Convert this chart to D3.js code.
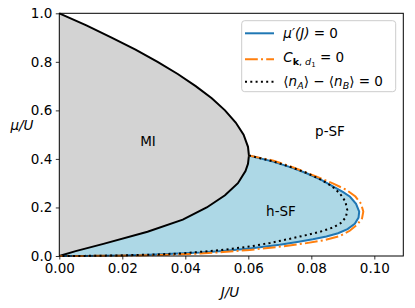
<!DOCTYPE html>
<html>
<head>
<meta charset="utf-8">
<script src="https://cdn.jsdelivr.net/npm/d3@7"></script>
<style>
  body { margin: 0; background: #fff; }
  text { font-family: "DejaVu Sans", sans-serif; }
</style>
</head>
<body>
<svg width="415" height="308"></svg>
<script>
// data
const xTicks = [0, 0.02, 0.04, 0.06, 0.08, 0.10]
const yTicks = [0, 0.2, 0.4, 0.6, 0.8, 1.0]

// Mott lobe boundary, top (mu=1) round to bottom (mu=0)
const lobeMu = [1.0, 0.95, 0.9, 0.85, 0.8, 0.75, 0.7, 0.65, 0.6, 0.55, 0.5, 0.45, 0.414, 0.38, 0.35, 0.3, 0.25, 0.2, 0.15, 0.1, 0.05, 0.02, 0]
const lobeJ  = [0, 0.0086, 0.0166, 0.0242, 0.0312, 0.0376, 0.0433, 0.0484, 0.0526, 0.0560, 0.0585, 0.0599, 0.0602, 0.0599, 0.0591, 0.0567, 0.0526, 0.0468, 0.0392, 0.0280, 0.0140, 0.0052, 0]

// mu'(J) = 0
const blueJ  = [0.0602, 0.0679, 0.0740, 0.0785, 0.0830, 0.0870, 0.0900, 0.0923, 0.0942, 0.0952, 0.0950, 0.0938, 0.0915, 0.0885, 0.0848, 0.0805, 0.0760, 0.0700, 0.0605, 0.0520, 0.0447, 0.0360, 0.0288, 0.0180, 0.0080, 0]
const blueMu = [0.414, 0.389, 0.363, 0.341, 0.315, 0.286, 0.264, 0.244, 0.215, 0.183, 0.158, 0.133, 0.111, 0.094, 0.080, 0.069, 0.059, 0.046, 0.031, 0.021, 0.014, 0.009, 0.005, 0.002, 0.0005, 0]

// C_k,d1 = 0
const orangeJ  = [0.0602, 0.0680, 0.0745, 0.0817, 0.0870, 0.0912, 0.0940, 0.0958, 0.0965, 0.0961, 0.0947, 0.0922, 0.0890, 0.0840, 0.0775, 0.0705, 0.0605, 0.0520, 0.0447, 0.0360, 0.0280, 0.0180, 0.0080, 0]
const orangeMu = [0.414, 0.393, 0.364, 0.327, 0.298, 0.272, 0.245, 0.215, 0.183, 0.155, 0.131, 0.104, 0.082, 0.065, 0.051, 0.039, 0.025, 0.016, 0.010, 0.006, 0.003, 0.0012, 0.0003, 0]

// <n_A> - <n_B> = 0
const dotJ  = [0.0602, 0.0679, 0.0740, 0.0785, 0.0830, 0.0865, 0.0891, 0.0908, 0.0914, 0.0910, 0.0893, 0.0868, 0.0828, 0.0780, 0.0725, 0.0669, 0.0605, 0.0510, 0.0393, 0.0300, 0.0180, 0.0080, 0]
const dotMu = [0.414, 0.390, 0.364, 0.342, 0.315, 0.288, 0.257, 0.225, 0.190, 0.160, 0.135, 0.117, 0.100, 0.085, 0.069, 0.054, 0.039, 0.024, 0.011, 0.006, 0.002, 0.0005, 0]

const svg = d3.select('svg')
const mLeft = 59.3, mRight = 403.3, mTop = 13.3, mBottom = 256

const x = d3.scaleLinear().domain([0, 0.1092]).range([mLeft, mRight])
const y = d3.scaleLinear().domain([0, 1]).range([mBottom, mTop])

const zip = (a, b) => a.map((v, i) => [v, b[i]])
const line = d3.line().x(d => x(d[0])).y(d => y(d[1]))

const lobe = zip(lobeJ, lobeMu)
const tipIdx = lobeMu.indexOf(0.414)
const lobeLower = lobe.slice(tipIdx)  // tip -> origin

// fills
svg.append('path')
  .attr('d', line(lobe) + 'Z')
  .attr('fill', '#d3d3d3')

const hsf = zip(blueJ, blueMu).concat(lobeLower.slice().reverse())
svg.append('path')
  .attr('d', line(hsf) + 'Z')
  .attr('fill', '#add8e6')

// curves
svg.append('path')
  .attr('d', line(lobe))
  .attr('fill', 'none').attr('stroke', '#000').attr('stroke-width', 2)

svg.append('path')
  .attr('d', line(zip(blueJ, blueMu)))
  .attr('fill', 'none').attr('stroke', '#1f77b4').attr('stroke-width', 2)

svg.append('path')
  .attr('d', line(zip(orangeJ, orangeMu)))
  .attr('fill', 'none').attr('stroke', '#ff7f0e').attr('stroke-width', 2)
  .attr('stroke-dasharray', '12.8,3.2,2,3.2')

svg.append('path')
  .attr('d', line(zip(dotJ, dotMu)))
  .attr('fill', 'none').attr('stroke', '#000').attr('stroke-width', 2)
  .attr('stroke-dasharray', '2,3.3')

// axes
const xAxis = d3.axisBottom(x).tickValues(xTicks).tickFormat(d3.format('.2f')).tickSizeOuter(0).tickSize(3.5).tickPadding(3.5)
const yAxis = d3.axisLeft(y).tickValues(yTicks).tickFormat(d3.format('.1f')).tickSizeOuter(0).tickSize(3.5).tickPadding(3.5)

const gx = svg.append('g').attr('transform', `translate(0,${mBottom})`).call(xAxis)
const gy = svg.append('g').attr('transform', `translate(${mLeft},0)`).call(yAxis)
;[gx, gy].forEach(g => {
  g.select('.domain').remove()
  g.selectAll('line').attr('stroke', '#000').attr('stroke-width', 0.8)
  g.selectAll('text').attr('fill', '#000').style('font-size', '13.5px').style('font-family', '"DejaVu Sans", sans-serif')
})

svg.append('rect')
  .attr('x', mLeft).attr('y', mTop)
  .attr('width', mRight - mLeft).attr('height', mBottom - mTop)
  .attr('fill', 'none').attr('stroke', '#000').attr('stroke-width', 1)

// axis labels
svg.append('text').attr('x', 230).attr('y', 297).attr('text-anchor', 'middle')
  .style('font-size', '13.5px').style('font-style', 'italic').text('J/U')
svg.append('text').attr('x', 22).attr('y', 130).attr('text-anchor', 'middle')
  .style('font-size', '13.5px').style('font-style', 'italic').text('μ/U')

// region labels
const labels = [['MI', 148, 146], ['p-SF', 330, 136], ['h-SF', 281, 216]]
labels.forEach(l => {
  svg.append('text').attr('x', l[1]).attr('y', l[2]).attr('text-anchor', 'middle')
    .style('font-size', '13.5px').text(l[0])
})

// legend
const lg = svg.append('g')
lg.append('rect')
  .attr('x', 241.7).attr('y', 20.7).attr('width', 154).attr('height', 71)
  .attr('rx', 3).attr('fill', '#fff').attr('fill-opacity', 0.8)
  .attr('stroke', '#cccccc').attr('stroke-width', 1)

const rows = [
  {y: 33.3, color: '#1f77b4', dash: null},
  {y: 59.3, color: '#ff7f0e', dash: '12.8,3.2,2,3.2'},
  {y: 81.7, color: '#000', dash: '2,3.3'}
]
rows.forEach(r => {
  lg.append('line').attr('x1', 245).attr('x2', 274).attr('y1', r.y).attr('y2', r.y)
    .attr('stroke', r.color).attr('stroke-width', 2)
    .attr('stroke-dasharray', r.dash)
})

const t1 = lg.append('text').attr('x', 283.3).attr('y', 38.3).style('font-size', '13.5px')
t1.append('tspan').style('font-style', 'italic').text('μ′(J)')
t1.append('tspan').text(' = 0')

const t2 = lg.append('text').attr('x', 283.3).attr('y', 62).style('font-size', '13.5px')
t2.append('tspan').style('font-style', 'italic').text('C')
t2.append('tspan').attr('dy', 3).style('font-size', '9.5px').style('font-weight', 'bold').text('k')
t2.append('tspan').style('font-size', '9.5px').text(', ')
t2.append('tspan').style('font-size', '9.5px').style('font-style', 'italic').text('d')
t2.append('tspan').attr('dy', 2).style('font-size', '7px').text('1')
t2.append('tspan').attr('dy', -5).text(' = 0')

const t3 = lg.append('text').attr('x', 283.3).attr('y', 86).style('font-size', '13.5px')
t3.append('tspan').text('⟨')
t3.append('tspan').style('font-style', 'italic').text('n')
t3.append('tspan').attr('dy', 3).style('font-size', '9.5px').style('font-style', 'italic').text('A')
t3.append('tspan').attr('dy', -3).text('⟩ − ⟨')
t3.append('tspan').style('font-style', 'italic').text('n')
t3.append('tspan').attr('dy', 3).style('font-size', '9.5px').style('font-style', 'italic').text('B')
t3.append('tspan').attr('dy', -3).text('⟩ = 0')
</script>
</body>
</html>
